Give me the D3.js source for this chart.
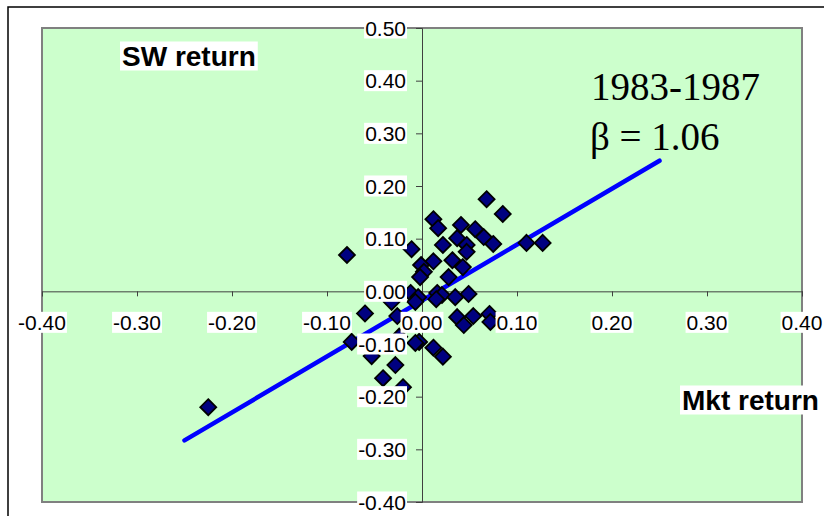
<!DOCTYPE html>
<html>
<head>
<meta charset="utf-8">
<script src="https://cdn.jsdelivr.net/npm/d3@7"></script>
<style>
  body { margin: 0; background: #fff; }
  svg { display: block; }
</style>
</head>
<body>
<div id="chart"></div>
<script>
// monthly returns
var mktReturn = [-0.079, -0.011, 0.068, 0.085, 0.110, 0.127, 0.012, 0.017, 0.041, 0.056,
                 0.065, 0.075, 0.037, 0.022, 0.047, 0.047, 0.043, 0.032, 0.012, -0.001,
                 0.002, -0.002, 0.028, -0.012, -0.004, -0.007, 0.016, 0.021, 0.015, 0.035,
                 0.049, -0.060, 0.037, 0.044, 0.054, 0.071, 0.072, -0.074, -0.003, 0.012,
                 0.022, -0.028, -0.041, -0.020, -0.026, -0.225, -0.007, -0.024, -0.053, -0.032]
var swReturn  = [0.069, 0.080, 0.175, 0.147, 0.092, 0.092, 0.137, 0.120, 0.126, 0.118,
                 0.103, 0.090, 0.101, 0.088, 0.088, 0.075, 0.046, 0.059, 0.057, 0.050,
                 0.037, 0.027, 0.027, -0.003, -0.011, -0.020, -0.003, -0.007, -0.015, -0.011,
                 -0.005, -0.042, -0.049, -0.064, -0.047, -0.043, -0.058, -0.096, -0.096, -0.107,
                 -0.124, -0.140, -0.165, -0.182, -0.047, -0.220, -0.098, -0.086, -0.123, -0.020]

var fitX = [-0.25, 0.25]
var fitY = [-0.283, 0.248]

var xTicks = [-0.4, -0.3, -0.2, -0.1, 0, 0.1, 0.2, 0.3, 0.4]
var yTicks = [-0.4, -0.3, -0.2, -0.1, 0, 0.1, 0.2, 0.3, 0.4, 0.5]

var width = 824, height = 516
var plot = {left: 42, right: 802, top: 28, bottom: 502}
var sans = "Arial, 'Liberation Sans', sans-serif"
var serif = "'Times New Roman', 'Liberation Serif', serif"

var svg = d3.select("#chart").append("svg")
    .attr("width", width)
    .attr("height", height)

var x = d3.scaleLinear().domain([-0.4, 0.4]).range([plot.left, plot.right])
var y = d3.scaleLinear().domain([-0.4, 0.5]).range([plot.bottom, plot.top])

// outer chart frame (runs off the right and bottom edges)
svg.append("rect")
    .attr("x", 8).attr("y", 7)
    .attr("width", 840).attr("height", 540)
    .attr("fill", "none")
    .attr("stroke", "#000")
    .attr("stroke-width", 1.5)

// plot area
svg.append("rect")
    .attr("x", plot.left).attr("y", plot.top)
    .attr("width", plot.right - plot.left)
    .attr("height", plot.bottom - plot.top)
    .attr("fill", "#ccffcc")
    .attr("stroke", "#808080")
    .attr("stroke-width", 2)

// axes crossing at origin
svg.append("g")
    .attr("transform", "translate(0," + y(0) + ")")
    .call(d3.axisBottom(x).tickValues(xTicks).tickSize(5).tickFormat(""))
svg.append("g")
    .attr("transform", "translate(" + x(0) + ",0)")
    .call(d3.axisLeft(y).tickValues(yTicks).tickSize(6).tickFormat(""))
svg.selectAll(".domain, .tick line").attr("stroke", "#404040").attr("stroke-width", 1)

// fitted line
svg.append("line")
    .attr("x1", x(fitX[0])).attr("y1", y(fitY[0]))
    .attr("x2", x(fitX[1])).attr("y2", y(fitY[1]))
    .attr("stroke", "#0000ff")
    .attr("stroke-width", 4.5)
    .attr("stroke-linecap", "round")

// points
var pts = mktReturn.map((d, i) => { return {x: d, y: swReturn[i]} })
svg.append("g").selectAll("path")
    .data(pts)
    .enter()
    .append("path")
    .attr("d", "M0,-8L8,0L0,8L-8,0Z")
    .attr("transform", (d) => { return "translate(" + x(d.x) + "," + y(d.y) + ")" })
    .attr("fill", "#000080")
    .attr("stroke", "#000")
    .attr("stroke-width", 1.8)

// text with white box behind it
function boxed(px, py, txt, anchor, size, weight, family, pad) {
    var g = svg.append("g")
    var t = g.append("text")
        .attr("x", px).attr("y", py)
        .attr("text-anchor", anchor)
        .attr("dominant-baseline", "central")
        .attr("font-family", family)
        .attr("font-size", size)
        .attr("font-weight", weight)
        .attr("fill", "#000")
        .text(txt)
    var b = t.node().getBBox()
    g.insert("rect", "text")
        .attr("x", b.x - pad).attr("y", b.y + 1)
        .attr("width", b.width + pad * 2).attr("height", b.height - 2)
        .attr("fill", "#fff")
}

var fmt = (v) => { return d3.format(".2f")(v).replace("\u2212", "-") }
xTicks.forEach((v) => { boxed(x(v), y(0) + 31, fmt(v), "middle", 21, "normal", sans, 1) })
yTicks.forEach((v) => { boxed(x(0) - 16, y(v), fmt(v), "end", 21, "normal", sans, 1) })

boxed(122, 56, "SW return", "start", 28, "bold", sans, 2)
boxed(682, 400, "Mkt return", "start", 28, "bold", sans, 2)

svg.append("text")
    .attr("x", 591).attr("y", 100)
    .attr("font-family", serif)
    .attr("font-size", 39)
    .text("1983-1987")
svg.append("text")
    .attr("x", 590).attr("y", 150)
    .attr("font-family", serif)
    .attr("font-size", 39)
    .text("β = 1.06")
</script>
</body>
</html>
